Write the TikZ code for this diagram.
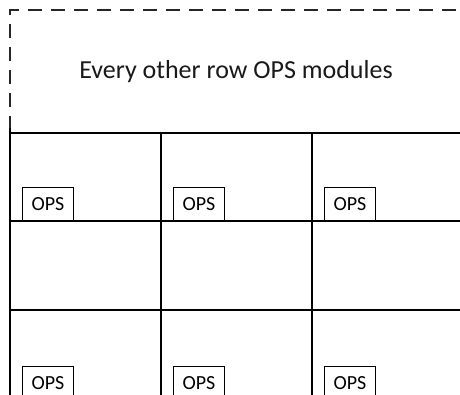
\documentclass[tikz,border=0pt]{standalone}
\usepackage{fontspec}
\setmainfont{Carlito}
\begin{document}
\begin{tikzpicture}[x=1pt,y=-1pt,
  opsbox/.style={draw, line width=1pt, minimum width=51pt, minimum height=34pt, inner sep=0pt, anchor=north west, font=\fontsize{20}{20}\selectfont},
  gridline/.style={line width=1.3pt},
  dashedge/.style={line width=2pt, dash pattern=on 14pt off 9pt, color=black!85}]
\useasboundingbox (0,0) rectangle (460,394);
\clip (0,0) rectangle (460,394);
% dashed outer region
\draw[dashedge] (10,130) -- (10,10) -- (460.6,10) -- (460.6,130);
\node[font=\fontsize{26}{26}\selectfont, text=black!90] (title) at (236,72) {Every other row OPS modules};
% grid
\foreach \yy in {133,221,310,399} \draw[gridline] (10,\yy) -- (470,\yy);
\draw[line width=2pt] (10,128) -- (10,400);
\foreach \xx in {161,312} \draw[gridline] (\xx,133) -- (\xx,400);
% OPS modules
\node[opsbox] (o11) at (22,187) {OPS};
\node[opsbox] (o12) at (173,187) {OPS};
\node[opsbox] (o13) at (324,187) {OPS};
\node[opsbox] (o31) at (22,366) {OPS};
\node[opsbox] (o32) at (173,366) {OPS};
\node[opsbox] (o33) at (324,366) {OPS};
\end{tikzpicture}
\end{document}
